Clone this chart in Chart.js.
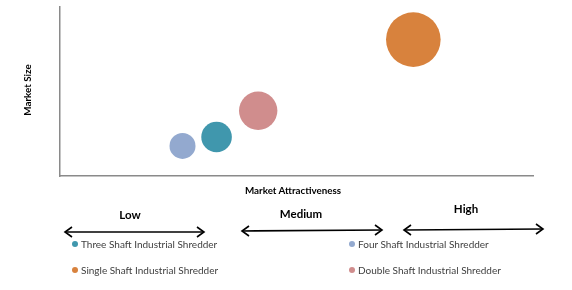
<!DOCTYPE html>
<html>
<head>
<meta charset="utf-8">
<script src="https://cdn.jsdelivr.net/npm/chart.js@4/dist/chart.umd.min.js"></script>
<style>
  html, body { margin: 0; padding: 0; background: #fff; }
  #wrap { position: relative; width: 572px; height: 290px; overflow: hidden; font-family: Lato, "Open Sans", sans-serif; }
  #c { position: absolute; left: 0; top: 0; }
  .t { position: absolute; white-space: nowrap; color: #000; }
  .b { font-weight: bold; }
  .ax { font-size: 9.8px; }
  .lvl { font-size: 11.5px; transform: translate(-50%, -50%); }
  .leg { font-size: 10px; color: #404040; transform: translateY(-50%); }
  .dot { position: absolute; width: 6px; height: 6px; border-radius: 50%; transform: translate(-50%, -50%); }
  svg { position: absolute; left: 0; top: 0; }
</style>
</head>
<body>
<div id="wrap">
  <canvas id="c" width="572" height="290"></canvas>
  <svg width="572" height="290" id="arrows"></svg>
  <div class="t b ax" id="ytitle" style="left:27px; top:90px; transform: translate(-50%, -50%) rotate(-90deg);">Market Size</div>
  <div class="t b ax" id="xtitle" style="left:293px; top:190px; transform: translate(-50%, -50%);">Market Attractiveness</div>
  <div id="levels"></div>
  <div id="legend"></div>
</div>
<script>
const seriesNames = ["Three Shaft Industrial Shredder", "Single Shaft Industrial Shredder", "Four Shaft Industrial Shredder", "Double Shaft Industrial Shredder"];
const seriesColors = ["#4097ad", "#d8823d", "#93a9cf", "#d08d8d"];
const attractiveness = [33.1, 74.7, 25.9, 41.9];
const marketSize = [23.1, 80.7, 17.8, 38.6];
const bubbleRadius = [15.3, 27.3, 13, 19.2];
const levelLabels = ["Low", "Medium", "High"];

const datasets = seriesNames.map((name, i) => ({
  label: name,
  data: [{ x: attractiveness[i], y: marketSize[i], r: bubbleRadius[i] }],
  backgroundColor: seriesColors[i],
  borderColor: seriesColors[i],
  borderWidth: 0,
  hoverBorderWidth: 0,
  clip: false
}));

new Chart(document.getElementById('c'), {
  type: 'bubble',
  data: { datasets },
  options: {
    responsive: false,
    animation: false,
    events: [],
    layout: { autoPadding: false, padding: { left: 60, top: 7, right: 39, bottom: 114 } },
    plugins: { legend: { display: false }, tooltip: { enabled: false } },
    scales: {
      x: {
        min: 0, max: 100,
        ticks: { display: false },
        grid: { display: false },
        border: { display: true, color: '#8a8a8a', width: 1.5 },
        afterFit: (scale) => { scale.height = 0; }
      },
      y: {
        min: 0, max: 100,
        ticks: { display: false },
        grid: { display: false },
        border: { display: true, color: '#8a8a8a', width: 1.5 },
        afterFit: (scale) => { scale.width = 0; }
      }
    }
  }
});

// level labels and arrows
const levelPos = [[130, 214], [301, 213], [466, 208]];
const arrowPos = [[65, 232, 204, 232], [242, 231, 382, 230], [404, 230, 543, 229]];
const levelsDiv = document.getElementById('levels');
levelLabels.forEach((lab, i) => {
  const d = document.createElement('div');
  d.className = 't b lvl';
  d.style.left = levelPos[i][0] + 'px';
  d.style.top = levelPos[i][1] + 'px';
  d.textContent = lab;
  levelsDiv.appendChild(d);
});
const svg = document.getElementById('arrows');
let s = '';
arrowPos.forEach(([x1, y1, x2, y2]) => {
  s += `<line x1="${x1}" y1="${y1}" x2="${x2}" y2="${y2}" stroke="#000" stroke-width="1.6"/>`;
  s += `<polyline points="${x1+7},${y1-5} ${x1},${y1} ${x1+7},${y1+5}" fill="none" stroke="#000" stroke-width="1.6"/>`;
  s += `<polyline points="${x2-7},${y2-5} ${x2},${y2} ${x2-7},${y2+5}" fill="none" stroke="#000" stroke-width="1.6"/>`;
});
svg.innerHTML = s;

// legend
const legPos = [[75, 244], [75, 270], [352, 244], [352, 270]];
const legendDiv = document.getElementById('legend');
seriesNames.forEach((name, i) => {
  const dot = document.createElement('div');
  dot.className = 'dot';
  dot.style.left = legPos[i][0] + 'px';
  dot.style.top = legPos[i][1] + 'px';
  dot.style.background = seriesColors[i];
  legendDiv.appendChild(dot);
  const t = document.createElement('div');
  t.className = 't leg';
  t.style.left = (legPos[i][0] + 6) + 'px';
  t.style.top = legPos[i][1] + 'px';
  t.textContent = name;
  legendDiv.appendChild(t);
});
</script>
</body>
</html>
